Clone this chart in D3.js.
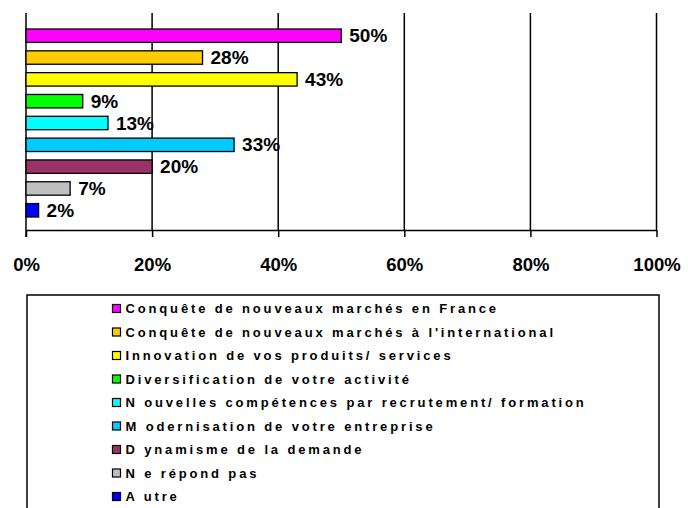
<!DOCTYPE html>
<html>
<head>
<meta charset="utf-8">
<script src="https://cdn.jsdelivr.net/npm/d3@7/dist/d3.min.js"></script>
<style>
  body { margin: 0; background: #fff; }
  svg text { font-family: "Liberation Sans", Arial, sans-serif; font-weight: 700; fill: #000; }
</style>
</head>
<body>
<div id="chart"></div>
<script>
var categories = [
  "Conquête de nouveaux marchés en France",
  "Conquête de nouveaux marchés à l'international",
  "Innovation de vos produits/services",
  "Diversification de votre activité",
  "Nouvelles compétences par recrutement/formation",
  "Modernisation de votre entreprise",
  "Dynamisme de la demande",
  "Ne répond pas",
  "Autre"
];
var legendLabels = [
  "Conquête de nouveaux marchés en France",
  "Conquête de nouveaux marchés à l'international",
  "Innovation de vos produits/ services",
  "Diversification de votre activité",
  "N ouvelles compétences par recrutement/ formation",
  "M odernisation de votre entreprise",
  "D ynamisme de la demande",
  "N e répond pas",
  "A utre"
];
var values = [50, 28, 43, 9, 13, 33, 20, 7, 2];
var colors = ["#ff00ff", "#ffcc00", "#ffff00", "#00ff00", "#00ffff", "#00ccff", "#993366", "#c0c0c0", "#0000ff"];
var tickValues = [0, 20, 40, 60, 80, 100];

var svg = d3.select("#chart")
            .append("svg")
            .attr("width", 688)
            .attr("height", 508);

var plotTop = 13, plotBottom = 230;

var x = d3.scaleLinear().domain([0, 100]).range([26, 656.5]);
var y = d3.scaleBand().domain(categories).range([20.6, 225.4]).padding(0.385);

// gridlines
svg.append("g")
  .selectAll("line")
  .data(tickValues.slice(1))
  .enter().append("line")
    .attr("x1", function(d) { return x(d); })
    .attr("x2", function(d) { return x(d); })
    .attr("y1", plotTop)
    .attr("y2", plotBottom)
    .attr("stroke", "#000")
    .attr("stroke-width", 1.5);

// x axis
var xAxis = svg.append("g")
  .attr("class", "axis x")
  .attr("transform", "translate(0," + plotBottom + ")")
  .call(d3.axisBottom(x).tickValues(tickValues).tickSize(7).tickSizeOuter(0).tickFormat(function(d) { return d + "%"; }));
xAxis.attr("font-size", null).attr("font-family", null);
xAxis.select(".domain").attr("stroke-width", 1.5);
xAxis.selectAll(".tick line").attr("stroke-width", 1.5);
xAxis.selectAll(".tick text")
  .attr("y", 41)
  .attr("dy", null)
  .style("font-size", "18.5px");

// y axis line
svg.append("line")
  .attr("x1", x(0)).attr("x2", x(0))
  .attr("y1", plotTop).attr("y2", plotBottom + 7)
  .attr("stroke", "#000")
  .attr("stroke-width", 1.5);

// bars
svg.append("g")
  .selectAll("rect")
  .data(values)
  .enter().append("rect")
    .attr("x", x(0))
    .attr("y", function(d, i) { return y(categories[i]); })
    .attr("width", function(d) { return x(d) - x(0); })
    .attr("height", y.bandwidth())
    .attr("fill", function(d, i) { return colors[i]; })
    .attr("stroke", "#000")
    .attr("stroke-width", 1.3);

// value labels
svg.append("g")
  .selectAll("text")
  .data(values)
  .enter().append("text")
    .attr("x", function(d) { return x(d) + 8; })
    .attr("y", function(d, i) { return y(categories[i]) + y.bandwidth() / 2 + 6.6; })
    .style("font-size", "19px")
    .text(function(d) { return d + "%"; });

// legend
var legend = svg.append("g");
legend.append("rect")
  .attr("x", 27).attr("y", 295)
  .attr("width", 632).attr("height", 240)
  .attr("fill", "none")
  .attr("stroke", "#000")
  .attr("stroke-width", 1.5);

var item = legend.selectAll(".item")
  .data(legendLabels)
  .enter().append("g")
    .attr("class", "item")
    .attr("transform", function(d, i) { return "translate(112.5," + (308.5 + i * 23.5) + ")"; });

item.append("rect")
  .attr("x", 0).attr("y", -4)
  .attr("width", 8).attr("height", 8)
  .attr("fill", function(d, i) { return colors[i]; })
  .attr("stroke", "#000")
  .attr("stroke-width", 1.2);

item.append("text")
  .attr("x", 13)
  .attr("y", 4.7)
  .style("font-size", "13px")
  .style("letter-spacing", "2.85px")
  .text(function(d) { return d; });
</script>
</body>
</html>
